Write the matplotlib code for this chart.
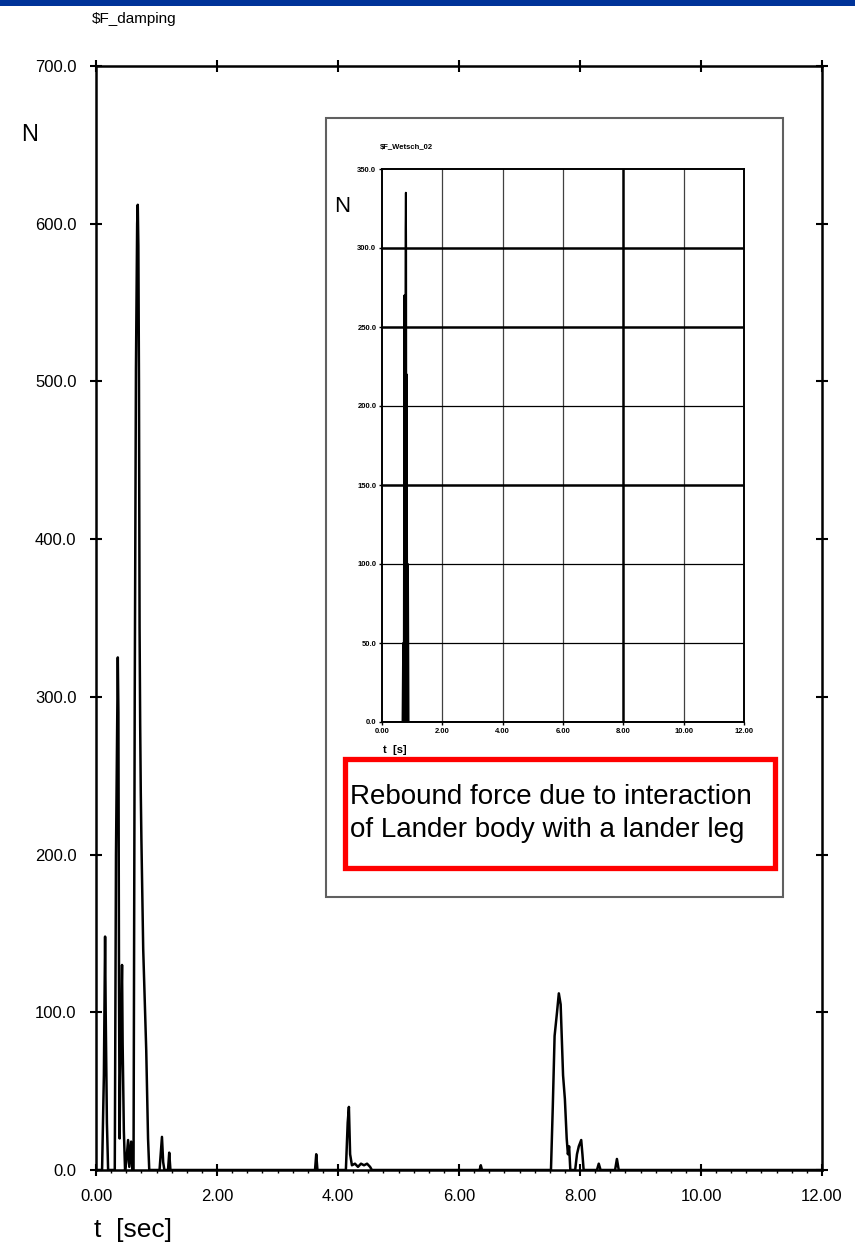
import matplotlib
matplotlib.use("Agg")
import matplotlib.pyplot as plt
from matplotlib.patches import Rectangle
from matplotlib.ticker import FormatStrFormatter, MultipleLocator

# main damping force trace
t_main = [0.00, 0.10, 0.13, 0.15, 0.16, 0.18, 0.20,
          0.31, 0.33, 0.36, 0.37, 0.38, 0.39, 0.40, 0.43, 0.44, 0.46, 0.48,
          0.50, 0.53, 0.55, 0.58, 0.60,
          0.62, 0.64, 0.66, 0.68, 0.69, 0.70, 0.71, 0.72, 0.73, 0.74, 0.75,
          0.78, 0.83, 0.86, 0.88,
          1.05, 1.09, 1.11, 1.13, 1.19, 1.21, 1.23,
          3.62, 3.64, 3.66, 4.13, 4.16, 4.18, 4.20, 4.23, 4.28, 4.33, 4.38,
          4.43, 4.48, 4.53, 4.56,
          6.34, 6.36, 6.38,
          7.52, 7.55, 7.58, 7.62, 7.65, 7.68, 7.72, 7.75, 7.78, 7.80, 7.82,
          7.84, 7.92, 7.95, 7.98, 8.02, 8.04, 8.06,
          8.28, 8.31, 8.34, 8.58, 8.61, 8.64, 12.00]
f_main = [0, 0, 60, 148, 100, 30, 0,
          0, 200, 325, 290, 120, 20, 60, 130, 80, 25, 0,
          5, 19, 2, 18, 0,
          0, 300, 508, 600, 612, 586, 500, 344, 282, 239, 210,
          140, 76, 20, 0,
          0, 21, 5, 0, 0, 11, 0,
          0, 10, 0, 0, 30, 40, 10, 3, 4, 2, 4,
          3, 4, 2, 0,
          0, 3, 0,
          0, 40, 85, 100, 112, 105, 60, 45, 20, 10, 15,
          0, 0, 10, 15, 19, 10, 0,
          0, 4, 0, 0, 7, 0, 0]

# inset rebound force trace
t_inset = [0.00, 0.68, 0.70, 0.72, 0.74, 0.76, 0.78, 0.79, 0.80, 0.81,
           0.82, 0.84, 0.86, 0.88, 0.90, 0.93, 12.00]
f_inset = [0, 0, 50, 0, 270, 0, 312, 335, 300, 0, 220, 0, 100, 0, 0, 0, 0]

x_ticks = [0, 2, 4, 6, 8, 10, 12]
y_ticks = [0, 100, 200, 300, 400, 500, 600, 700]
inset_y_ticks = [0, 50, 100, 150, 200, 250, 300, 350]

narrow = ["Liberation Sans Narrow", "Liberation Sans", "DejaVu Sans"]
plain = ["Liberation Sans", "DejaVu Sans"]

fig = plt.figure(figsize=(8.55, 12.5), dpi=100)

# top slide band
fig.patches.append(Rectangle((0, 0.9952), 1, 0.0048, transform=fig.transFigure,
                             facecolor="#003399", edgecolor="none", zorder=5))

ax = fig.add_axes([0.1123, 0.064, 0.8491, 0.8832])
ax.plot(t_main, f_main, color="black", lw=1.8)
ax.set_xlim(0, 12)
ax.set_ylim(0, 700)
ax.set_xticks(x_ticks)
ax.set_yticks(y_ticks)
ax.xaxis.set_minor_locator(MultipleLocator(0.25))
ax.xaxis.set_major_formatter(FormatStrFormatter("%.2f"))
ax.yaxis.set_major_formatter(FormatStrFormatter("%.1f"))
ax.tick_params(which="major", direction="inout", length=8, width=1.5,
               top=True, right=True, labelsize=12, pad=10)
ax.tick_params(which="minor", direction="out", length=2, width=1, bottom=True)
for lab in ax.get_xticklabels() + ax.get_yticklabels():
    lab.set_family(narrow)
for s in ax.spines.values():
    s.set_linewidth(1.8)

fig.text(0.108, 0.985, "$F_damping", fontsize=11, family=narrow, va="center")
fig.text(0.025, 0.892, "N", fontsize=17, family=plain, va="center")
fig.text(0.11, 0.016, "t  [sec]", fontsize=19, family=narrow, va="center")

# inset frame
fig.patches.append(Rectangle((0.3813, 0.2824), 0.5345, 0.6232, transform=fig.transFigure,
                             facecolor="white", edgecolor="#606060", lw=1.5, zorder=1))

ax2 = fig.add_axes([0.4468, 0.4224, 0.4234, 0.4424], zorder=2)
ax2.plot(t_inset, f_inset, color="black", lw=1.4, zorder=3)
ax2.set_xlim(0, 12)
ax2.set_ylim(0, 350)
ax2.set_xticks(x_ticks)
ax2.set_yticks(inset_y_ticks)
ax2.xaxis.set_major_formatter(FormatStrFormatter("%.2f"))
ax2.yaxis.set_major_formatter(FormatStrFormatter("%.1f"))
ax2.tick_params(direction="out", length=2, width=1, labelsize=5.5, pad=2)
for lab in ax2.get_xticklabels() + ax2.get_yticklabels():
    lab.set_family(narrow)
    lab.set_fontweight("bold")
for s in ax2.spines.values():
    s.set_linewidth(1.4)
for xv in x_ticks[1:-1]:
    ax2.axvline(xv, color="black" if xv == 8 else "#404040",
                lw=1.8 if xv == 8 else 0.9, zorder=1)
for yv in inset_y_ticks[1:-1]:
    ax2.axhline(yv, color="black", lw=1.8 if yv in (150, 250, 300) else 0.9, zorder=1)

fig.text(0.444, 0.882, "$F_Wetsch_02", fontsize=5.5, family=narrow,
         fontweight="bold", va="center", zorder=3)
fig.text(0.391, 0.835, "N", fontsize=16, family=plain, va="center", zorder=3)
fig.text(0.448, 0.400, "t  [s]", fontsize=8, family=narrow, fontweight="bold",
         va="center", zorder=3)

# red annotation box
fig.patches.append(Rectangle((0.4035, 0.3056), 0.503, 0.0872, transform=fig.transFigure,
                             facecolor="white", edgecolor="#ff0000", lw=3.8, zorder=4))
fig.text(0.409, 0.349, "Rebound force due to interaction\nof Lander body with a lander leg",
         fontsize=20, family=plain, va="center", linespacing=1.35, zorder=5)

fig.savefig("out.png", dpi=100)
